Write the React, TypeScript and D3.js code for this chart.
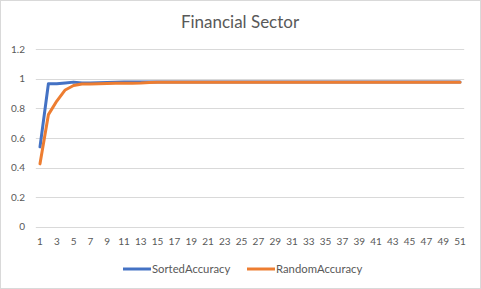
import React from "react";
import * as d3 from "d3";

const categories: number[] = Array.from({ length: 51 }, (_, i) => i + 1);
const sortedAccuracy: number[] = [
  0.54, 0.967, 0.967, 0.972, 0.978, 0.972, 0.972, 0.974, 0.976, 0.977,
  0.978, 0.978, 0.978, 0.978, 0.978, 0.978, 0.978, 0.978, 0.978, 0.978,
  0.978, 0.978, 0.978, 0.978, 0.978, 0.978, 0.978, 0.978, 0.978, 0.978,
  0.978, 0.978, 0.978, 0.978, 0.978, 0.978, 0.978, 0.978, 0.978, 0.978,
  0.978, 0.978, 0.978, 0.978, 0.978, 0.978, 0.978, 0.978, 0.978, 0.978,
  0.978,
];
const randomAccuracy: number[] = [
  0.425, 0.758, 0.85, 0.925, 0.955, 0.965, 0.966, 0.967, 0.969, 0.97,
  0.971, 0.971, 0.972, 0.976, 0.977, 0.977, 0.977, 0.977, 0.977, 0.977,
  0.977, 0.977, 0.977, 0.977, 0.977, 0.977, 0.977, 0.977, 0.977, 0.977,
  0.977, 0.977, 0.977, 0.977, 0.977, 0.977, 0.977, 0.977, 0.977, 0.977,
  0.977, 0.977, 0.977, 0.977, 0.977, 0.977, 0.977, 0.977, 0.977, 0.977,
  0.977,
];
const yTicks: number[] = [0, 0.2, 0.4, 0.6, 0.8, 1, 1.2];
const seriesNames: string[] = ["SortedAccuracy", "RandomAccuracy"];
const seriesColors: string[] = ["#4472C4", "#ED7D31"];

export default function App() {
  const W = 481, H = 289;
  const left = 35.8, right = 464.2, top = 49.3, bottom = 226.7;
  const x = d3.scaleBand<number>().domain(categories).range([left, right]);
  const y = d3.scaleLinear().domain([0, 1.2]).range([bottom, top]);
  const cx = (c: number) => (x(c) as number) + x.bandwidth() / 2;
  const line = d3.line<number>().x((_, i) => cx(categories[i])).y((v) => y(v));
  const font = "Lato, 'Open Sans', sans-serif";
  const labelCats = categories.filter((c) => c % 2 === 1);
  const series = [sortedAccuracy, randomAccuracy];
  return (
    <svg width={W} height={H} style={{ position: "absolute", left: 0, top: 0 }} fontFamily={font}>
      <rect x={0.5} y={0.5} width={W - 1} height={H - 1} fill="#fff" stroke="#d9d9d9" />
      <text x={240} y={28} textAnchor="middle" fontSize={17} fill="#595959">Financial Sector</text>
      {yTicks.map((t) => (
        <g key={t}>
          <line x1={left} x2={right} y1={Math.round(y(t)) + 0.5} y2={Math.round(y(t)) + 0.5} stroke="#d9d9d9" />
          <text x={25} y={y(t) + 3.5} textAnchor="end" fontSize={10} fill="#595959">{t}</text>
        </g>
      ))}
      {labelCats.map((c) => (
        <text key={c} x={cx(c)} y={245} textAnchor="middle" fontSize={10} fill="#595959">{c}</text>
      ))}
      {series.map((s, i) => (
        <path key={i} d={line(s) || ""} fill="none" stroke={seriesColors[i]} strokeWidth={3} strokeLinejoin="round" strokeLinecap="round" />
      ))}
      {seriesNames.map((n, i) => {
        const lx = i === 0 ? 123 : 247;
        return (
          <g key={n}>
            <line x1={lx} x2={lx + 28} y1={269} y2={269} stroke={seriesColors[i]} strokeWidth={3} />
            <text x={lx + 29} y={273} fontSize={11.3} fill="#595959">{n}</text>
          </g>
        );
      })}
    </svg>
  );
}
